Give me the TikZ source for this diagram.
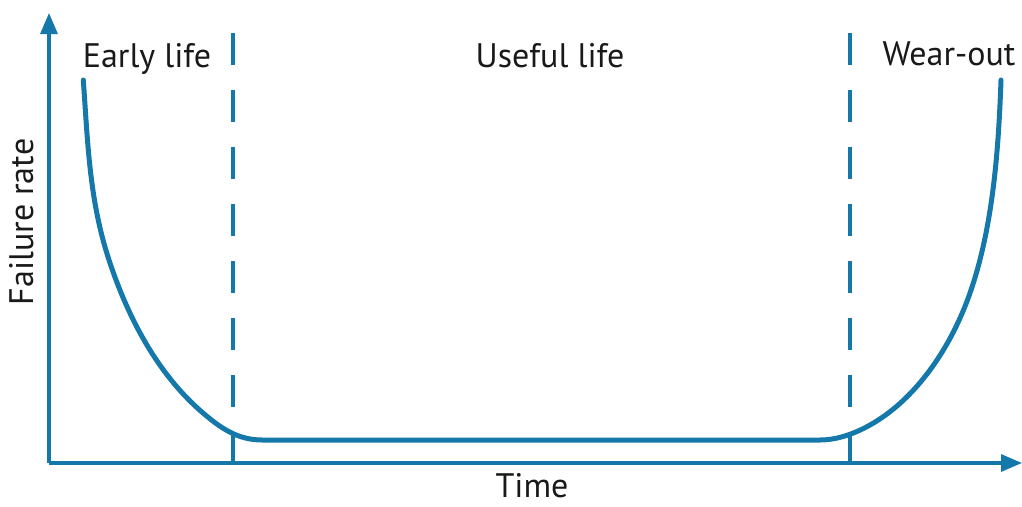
\documentclass[tikz,border=0pt]{standalone}
\usepackage{fontspec}
\setmainfont{PT Sans}
\usetikzlibrary{arrows.meta}
\definecolor{curveblue}{RGB}{20,120,170}
\definecolor{labelgray}{RGB}{25,25,25}
\begin{document}
\begin{tikzpicture}[x=1pt,y=-1pt,
  axis/.style={draw=curveblue,line width=3.2pt,-{Triangle[length=21pt,width=17pt]}},
  phase/.style={draw=curveblue,line width=3.4pt,dash pattern=on 32pt off 25pt},
  bathtub/.style={draw=curveblue,line width=5pt,line cap=round,line join=round},
  lbl/.style={text=labelgray,font=\fontsize{34}{40}\selectfont,inner sep=0pt,anchor=base}]
  \useasboundingbox (0,0) rectangle (1022,506);
  % axes
  \coordinate (O) at (49,463);
  \coordinate (ytip) at (49,13);
  \coordinate (xtip) at (1022,463);
  \draw[axis] (O) -- (ytip);
  \draw[axis] (O) -- (xtip);
  % phase boundaries
  \coordinate (b1top) at (233,33);
  \coordinate (b1bot) at (233,464);
  \coordinate (b2top) at (850,33);
  \coordinate (b2bot) at (850,464);
  \draw[phase] (b1top) -- (b1bot);
  \draw[phase] (b2top) -- (b2bot);
  % bathtub curve: early failures, constant rate, wear-out
  \coordinate (c0) at (83.3,80);
  \coordinate (c1) at (109,260);
  \coordinate (c2) at (203,413);
  \coordinate (c3) at (262,440);
  \coordinate (c4) at (820,440);
  \coordinate (c5) at (888.3,413);
  \coordinate (c6) at (970,293);
  \coordinate (c7) at (1001,80);
  \draw[bathtub] (c0)
    .. controls (87.8,143) and (89.3,200) .. (c1)
    .. controls (127.7,317) and (157.3,374) .. (c2)
    .. controls (219.8,427.3) and (237,440) .. (c3)
    -- (c4)
    .. controls (844,440) and (869.1,427.5) .. (c5)
    .. controls (926.6,384) and (954.2,338.3) .. (c6)
    .. controls (993,227) and (998.5,150) .. (c7);
  % labels
  \node[lbl] (early) at (147,67) {Early life};
  \node[lbl] (useful) at (550,67) {Useful life};
  \node[lbl] (wear) at (949,65) {Wear-out};
  \node[lbl] (time) at (532,497) {Time};
  \node[lbl,rotate=90] (rate) at (33,222) {Failure rate};
\end{tikzpicture}
\end{document}
